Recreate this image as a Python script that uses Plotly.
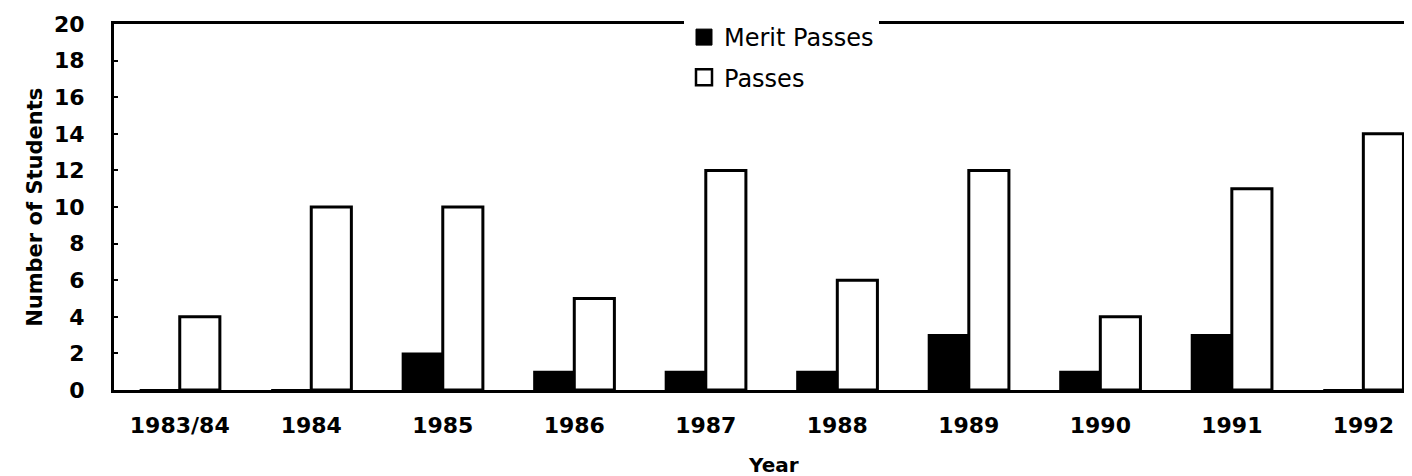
import plotly.graph_objects as go

years = ["1983/84", "1984", "1985", "1986", "1987", "1988", "1989", "1990", "1991", "1992"]
merit_passes = [0, 0, 2, 1, 1, 1, 3, 1, 3, 0]
passes = [4, 10, 10, 5, 12, 6, 12, 4, 11, 14]
y_ticks = list(range(0, 21, 2))

fig = go.Figure()
fig.add_trace(go.Bar(x=years, y=merit_passes, name="Merit Passes",
                     marker=dict(color="black", line=dict(color="black", width=2)),
                     showlegend=False))
fig.add_trace(go.Bar(x=years, y=passes, name="Passes",
                     marker=dict(color="white", line=dict(color="black", width=3)),
                     showlegend=False))
# legend entries
fig.add_trace(go.Scatter(x=[None], y=[None], mode="markers", name="Merit Passes",
                         legendgroup="a",
                         marker=dict(symbol="square", size=17, color="black",
                                     line=dict(color="black", width=1))))
fig.add_trace(go.Scatter(x=[None], y=[None], mode="markers", name="Passes",
                         legendgroup="b",
                         marker=dict(symbol="square", size=16, color="white",
                                     line=dict(color="black", width=2.5))))

bold = dict(family="DejaVu Sans", size=22, color="black", weight="bold")

W, H = 1404, 468

fig.update_layout(
    width=W, height=H,
    margin=dict(l=106, r=0, t=16, b=86, autoexpand=False),
    paper_bgcolor="white", plot_bgcolor="white",
    barmode="group", bargap=0.39, bargroupgap=0,
    showlegend=True,
    legend=dict(x=(682 - 112) / 1298, y=1 - 7 / H, xref="paper", yref="container",
                xanchor="left", yanchor="top",
                bgcolor="white", borderwidth=0,
                font=dict(family="DejaVu Sans", size=24, color="black"),
                traceorder="grouped", tracegroupgap=6),
    xaxis=dict(type="category", range=[-0.5, 9.37], showline=True, linecolor="black",
               linewidth=3, mirror=True, ticks="", showgrid=False, zeroline=False,
               tickfont=bold, ticklabelstandoff=14, automargin=False),
    yaxis=dict(range=[0, 20], tickvals=y_ticks, showline=True, linecolor="black",
               linewidth=3, ticks="inside", ticklen=4, tickwidth=2, tickcolor="black",
               showgrid=False, zeroline=False, tickfont=bold, ticklabelstandoff=22,
               automargin=False),
    annotations=[
        dict(text="Year", x=0.508, y=-0.205, xref="paper", yref="paper",
             xanchor="center", yanchor="middle", showarrow=False,
             font=dict(family="DejaVu Sans", size=20, color="black", weight="bold")),
        dict(text="Number of Students", x=-0.061, y=0.5, xref="paper", yref="paper",
             xanchor="center", yanchor="middle", textangle=-90, showarrow=False,
             font=dict(family="DejaVu Sans", size=21, color="black", weight="bold")),
    ],
)

fig.write_html("out.html")
